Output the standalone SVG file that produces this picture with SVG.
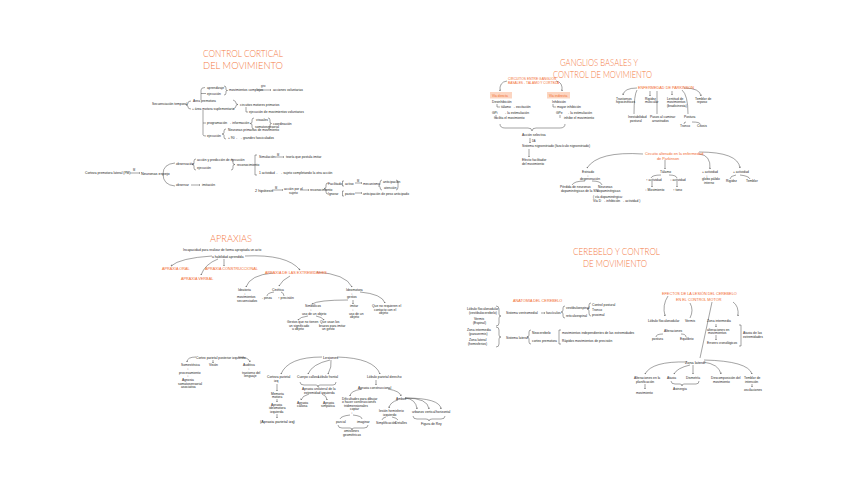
<svg xmlns="http://www.w3.org/2000/svg" width="848" height="486" viewBox="0 0 848 486">
<defs>
<style>
.t{font-family:"Liberation Sans",Arial,sans-serif;font-size:3.3px;fill:#222}
.b{font-family:"Liberation Sans",Arial,sans-serif;font-size:3.8px;fill:#222}
.o{font-family:"Liberation Sans",Arial,sans-serif;font-size:3.8px;fill:#f26a2d}
.h{font-family:"Lato","Open Sans","Liberation Sans",sans-serif;font-weight:300;font-size:10.4px;fill:#f47a45}
.c{fill:none;stroke:#333;stroke-width:0.45}
.a{fill:none;stroke:#333;stroke-width:0.45;marker-end:url(#ar)}
.bx{fill:#fcd5c1}
</style>
<marker id="ar" viewBox="0 0 6 6" refX="5" refY="3" markerWidth="4" markerHeight="4" orient="auto"><path d="M0,0.5 L5,3 L0,5.5" fill="none" stroke="#333" stroke-width="1"/></marker>
</defs>
<rect width="848" height="486" fill="#fff"/>

<!-- ===== Titles ===== -->
<g id="title1"><text class="h" x="203" y="56.5" textLength="80" lengthAdjust="spacingAndGlyphs">CONTROL CORTICAL</text><text class="h" x="203" y="69" textLength="80" lengthAdjust="spacingAndGlyphs">DEL MOVIMIENTO</text></g>
<g id="title2"><text class="h" x="560" y="65.5" textLength="78" lengthAdjust="spacingAndGlyphs">GANGLIOS BASALES Y</text><text class="h" x="553" y="78" textLength="99" lengthAdjust="spacingAndGlyphs">CONTROL DE MOVIMIENTO</text></g>
<g id="title3"><text class="h" x="210" y="242" textLength="42" lengthAdjust="spacingAndGlyphs">APRAXIAS</text></g>
<g id="title4"><text class="h" x="573" y="254.5" textLength="87" lengthAdjust="spacingAndGlyphs">CEREBELO Y CONTROL</text><text class="h" x="583" y="267" textLength="64" lengthAdjust="spacingAndGlyphs">DE MOVIMIENTO</text></g>

<!-- ===== Connectors ===== -->
<g id="connectors">
<!-- section 1 -->
<path class="c" d="M191,101 Q188,101 188,103 Q188,105 186,105 Q188,105 188,107 Q188,109 191,109"/>
<path class="c" d="M201,100 L201,90 Q201,87.5 205,87.5 M201,93.5 L206,93.5"/>
<path class="c" d="M224,86 Q226,86 226,88 L226,89.5 Q226,90.5 227.5,90.5 Q226,90.5 226,91.5 L226,93 Q226,95 224,95"/>
<path class="a" d="M257,90 L271,90"/>
<path class="c" d="M233,100 Q236,101 236,103 Q236,104.5 238,104.5 Q236,104.5 236,106 Q236,108 233,109"/>
<path class="c" d="M246,107 L246,112 L248,112"/>
<path class="c" d="M203,110 L203,135 Q203,136 206,136 M203,123 L206,123"/>
<path class="c" d="M254,118 Q252,118 252,120 L252,122 Q252,123.5 250,123.5 Q252,123.5 252,125 L252,127 Q252,129 254,129"/>
<path class="c" d="M268,118 Q270,118 270,120 L270,122 Q270,123.5 271.5,123.5 Q270,123.5 270,125 L270,127 Q270,129 268,129"/>
<path class="c" d="M226,129 Q224,129 224,131 L224,132.5 Q224,134 222,134 Q224,134 224,135.5 L224,137 Q224,139 226,139"/>
<path class="a" d="M130,173 L140,173"/>
<path class="c" d="M175,163 Q163,164 163,174 Q163,185 175,186"/>
<path class="c" d="M196,159 Q194,159 194,161 L194,163 Q194,164.5 192,164.5 Q194,164.5 194,166 L194,168 Q194,170 196,170"/>
<path class="c" d="M231,159 Q233,159 233,161 L233,163 Q233,164.5 235,164.5 Q233,164.5 233,166 L233,168 Q233,170 231,170"/>
<path class="c" d="M257,155 L255,155 L255,175 L257,175"/>
<path class="a" d="M275,157 L284,157"/>
<path class="a" d="M191,185 L200,185"/>
<path class="a" d="M272,190 L283,190"/>
<path class="a" d="M300,190 L309,190"/>
<path class="c" d="M328,183 Q326,183 326,185 L326,187 Q326,188.5 324,188.5 Q326,188.5 326,190 L326,192 Q326,194 328,194"/>
<path class="c" d="M344,181 L342.5,181 L342.5,186 L344,186 M344,191 L342.5,191 L342.5,196 L344,196"/>
<path class="a" d="M355,183 L362,183"/>
<path class="a" d="M355,193 L362,193"/>
<path class="c" d="M382,180 Q380,180 380,183 Q380,186 378.5,186 Q380,186 380,187 Q380,190 382,190 M396,180 Q398,180 398,183 Q398,186 398,187 Q398,190 396,190"/>
<!-- section 2 -->
<path class="a" d="M507,81 Q499,82 500,91"/>
<path class="a" d="M556,81 Q563,82 562,91"/>
<path class="c" d="M497,104 L497,107 L500,107"/>
<path class="c" d="M553,104 L553,107 L556,107"/>
<path class="c" d="M496,115 L496,118 M560,115 L560,118"/>
<path class="c" d="M500,124 Q500,128 505,128 L528,128 Q532,128 532,131 Q532,128 536,128 L560,128 Q565,128 565,124"/>
<path class="a" d="M530,138 L530,143"/>
<path class="a" d="M529,149 L529,157"/>
<path class="a" d="M637,88 Q624,88 623,95"/>
<path class="c" d="M637,90 Q634,95 634,114"/>
<path class="a" d="M650,91 L650,96"/>
<path class="c" d="M657,91 L657,114"/>
<path class="a" d="M672,91 L672,95"/>
<path class="c" d="M682,90 Q688,95 688,114"/>
<path class="c" d="M686,122 Q684,122 684,124 M692,122 Q700,122 700,124"/>
<path class="a" d="M684,88 Q700,88 701,96"/>
<path class="a" d="M643,154 Q598,151 587,168"/>
<path class="c" d="M585,181 Q574,181 572,185 M592,181 Q601,181 602,185"/>
<path class="a" d="M665,160 L665,169"/>
<path class="c" d="M661,175 Q652,175 651,178 M669,175 Q676,175 677,178"/>
<path class="a" d="M652,181 L652,187"/>
<path class="a" d="M677,181 L677,187"/>
<path class="a" d="M699,154 Q711,155 710,169"/>
<path class="a" d="M699,152 Q738,152 740,168"/>
<path class="c" d="M736,175 Q730,176 730,179 M740,175 Q749,176 750,179"/>
<!-- section 3 -->
<path class="a" d="M212,256 Q180,258 171,266"/>
<path class="a" d="M218,259 Q205,264 201,275"/>
<path class="a" d="M224,259 L224,266"/>
<path class="a" d="M245,256 Q287,254 300,270"/>
<path class="a" d="M273,273 Q250,275 246,287"/>
<path class="a" d="M290,276 Q282,280 279,286"/>
<path class="c" d="M274,292 Q267,293 267,296 M281,292 Q284,293 284,296"/>
<path class="a" d="M316,272 Q346,274 352,287"/>
<path class="a" d="M348,300 Q318,300 312,304"/>
<path class="a" d="M308,316 Q300,317 298,320"/>
<path class="a" d="M316,316 Q322,317 324,320"/>
<path class="a" d="M353,300 L353,304"/>
<path class="a" d="M360,292 Q382,294 385,303"/>
<path class="a" d="M196,357 Q187,357 187,362"/>
<path class="a" d="M213,360 L213,363"/>
<path class="a" d="M238,357 Q249,357 250,362"/>
<path class="a" d="M322,357 Q288,357 281,374"/>
<path class="a" d="M330,360 Q312,364 308,374"/>
<path class="a" d="M331,360 Q332,367 328,374"/>
<path class="a" d="M337,357 Q374,358 380,374"/>
<path class="c" d="M300,382 Q300,385 304,385 L316,385 Q318,385 318,387 Q318,385 320,385 L333,385 Q336,385 336,382"/>
<path class="a" d="M309,394 Q302,396 301,400"/>
<path class="a" d="M322,394 Q327,396 327,400"/>
<path class="a" d="M277,384 L277,391"/>
<path class="a" d="M277,399 L277,402"/>
<path class="a" d="M277,414 L277,418"/>
<path class="a" d="M376,380 L376,385"/>
<path class="a" d="M362,389 Q350,391 350,396"/>
<path class="a" d="M388,389 Q400,391 401,396"/>
<path class="c" d="M350,415 Q341,416 340,419 M353,415 Q362,416 362,419"/>
<path class="c" d="M338,425 Q338,428 342,428 L350,428 Q352,428 352,430 Q352,428 354,428 L364,428 Q368,428 368,425"/>
<path class="a" d="M398,400 Q390,402 389,408"/>
<path class="c" d="M386,417 Q382,418 382,420 M392,417 Q397,418 398,420"/>
<path class="a" d="M405,398 Q416,399 417,409"/>
<path class="a" d="M405,398 Q428,398 429,409"/>
<path class="a" d="M405,398 Q440,398 441,409"/>
<path class="c" d="M413,416 Q413,419 417,419 L426,419 Q429,419 429,421 Q429,419 432,419 L441,419 Q445,419 445,416"/>
<!-- section 4 -->
<path class="c" d="M496,306 Q499,306 499,309 L499,314 Q499,316 501,316 Q499,316 499,318 L499,323 Q499,326 496,326"/>
<path class="a" d="M541,313 L545,313"/>
<path class="c" d="M565,306 Q563,306 563,308 L563,310 Q563,312 561,312 Q563,312 563,314 L563,316 Q563,318 565,318"/>
<path class="c" d="M591,303 Q589,303 589,305 L589,307 Q589,309 587,309 Q589,309 589,311 L589,313 Q589,316 591,316"/>
<path class="c" d="M496,327 Q499,327 499,330 L499,335 Q499,337 501,337 Q499,337 499,339 L499,344 Q499,347 496,347"/>
<path class="c" d="M531,330 Q529,330 529,332 L529,335 Q529,337 527,337 Q529,337 529,339 L529,342 Q529,344 531,344"/>
<path class="c" d="M561,330 L559,330 L559,344 L561,344"/>
<path class="a" d="M668,296 Q662,305 665,316"/>
<path class="a" d="M733,302 Q739,306 738,316"/>
<path class="c" d="M712,302 Q706,330 700,358"/>
<path class="c" d="M690,303 Q694,310 690,318"/>
<path class="c" d="M663,334 Q656,334 656,337 M681,334 Q686,334 686,337"/>
<path class="a" d="M716,324 L716,327"/>
<path class="a" d="M716,335 L716,340"/>
<path class="c" d="M739,325 L741,325 L741,346 L739,346"/>
<path class="a" d="M687,362 Q652,361 645,374"/>
<path class="a" d="M690,365 Q677,368 674,374"/>
<path class="a" d="M693,365 L693,374"/>
<path class="c" d="M671,381 Q671,384 675,384 L680,384 Q682,384 682,386 Q682,384 684,384 L696,384 Q699,384 699,381"/>
<path class="a" d="M703,362 Q719,364 721,374"/>
<path class="a" d="M704,360 Q748,361 752,374"/>
<path class="a" d="M645,384 L645,389"/>
<path class="a" d="M752,384 L752,387"/>
</g>

<!-- ===== Section 1: Control cortical ===== -->
<g id="s1n1"><text class="t" x="152" y="105">Secuenciación temporal</text></g>
<g id="s1n2"><text class="t" x="193" y="102">Área premotora</text></g>
<g id="s1n3"><text class="t" x="192" y="109.5">+ área motora suplementaria</text></g>
<g id="s1n4"><text class="t" x="207" y="88.5">aprendizaje</text></g>
<g id="s1n5"><text class="t" x="207" y="94.5">ejecución</text></g>
<g id="s1n6"><text class="t" x="229" y="91">movimientos complejos</text></g>
<g id="s1n6b"><text class="t" x="261" y="87" style="font-size:2.6px">giro</text></g>
<g id="s1n7"><text class="t" x="273" y="91">acciones voluntarias</text></g>
<g id="s1n8"><text class="t" x="240" y="105.5">circuitos motores primarios</text></g>
<g id="s1n9"><text class="t" x="249" y="113">ejecución de movimientos voluntarios</text></g>
<g id="s1n10"><text class="t" x="207" y="124">programación</text></g>
<g id="s1n11"><text class="t" x="228" y="124">→ información</text></g>
<g id="s1n12"><text class="t" x="256" y="121">visuales</text></g>
<g id="s1n13"><text class="t" x="255" y="128">somatosensorial</text></g>
<g id="s1n14"><text class="t" x="273" y="124.5">coordinación</text></g>
<g id="s1n15"><text class="t" x="207" y="136.5">ejecución</text></g>
<g id="s1n16"><text class="t" x="228" y="131">Neuronas primarias de movimiento</text></g>
<g id="s1n17"><text class="t" x="228" y="138.5">+ 90 ←→ grandes fasciculados</text></g>

<g id="s1m1"><text class="t" x="85" y="174">Corteza premotora lateral (PM)</text></g>
<g id="s1m1b"><text class="t" x="133" y="171" style="font-size:2.6px">M</text></g>
<g id="s1m2"><text class="b" x="141" y="174.5">Neuronas espejo</text></g>
<g id="s1m3"><text class="t" x="176" y="164.5">observación</text></g>
<g id="s1m4"><text class="t" x="197" y="161">acción y predicción de ejecución</text></g>
<g id="s1m5"><text class="t" x="197" y="169">ejecución</text></g>
<g id="s1m6"><text class="t" x="237" y="165.5">reconocimiento</text></g>
<g id="s1m7"><text class="t" x="259" y="158">Simulación</text><text class="t" x="277" y="155.5" style="font-size:2.6px">M</text></g>
<g id="s1m8"><text class="t" x="286" y="158">teoría que postula imitar</text></g>
<g id="s1m9"><text class="t" x="259" y="173.5">1 actividad ←→ sujeto completando la otra acción</text></g>
<g id="s1m10"><text class="t" x="176" y="186">observar</text></g>
<g id="s1m11"><text class="t" x="202" y="186">imitación</text></g>
<g id="s1m12"><text class="b" x="255" y="191.5">2 hipótesis</text><text class="t" x="275" y="188.5" style="font-size:2.6px">M</text></g>
<g id="s1m13"><text class="t" x="284" y="190">acción por el</text><text class="t" x="289" y="194">sujeto</text></g>
<g id="s1m14"><text class="t" x="310" y="191">reconocimiento</text></g>
<g id="s1m15"><text class="t" x="328" y="184.5">Facilitado</text><text class="t" x="345" y="184.5">activo</text><text class="t" x="357" y="181.5" style="font-size:2.6px">M</text></g>
<g id="s1m16"><text class="t" x="363" y="184.5">mecanismo</text></g>
<g id="s1m17"><text class="t" x="383" y="183">anticipación</text><text class="t" x="384" y="189">atención</text></g>
<g id="s1m18"><text class="t" x="328" y="194.5">Ignorar</text><text class="t" x="345" y="194.5">pasivo</text></g>
<g id="s1m19"><text class="t" x="363" y="194.5">anticipación de peso anticipado</text></g>

<!-- ===== Section 2: Ganglios basales ===== -->
<g id="s2n1"><text class="o" x="508" y="80" style="font-size:3.3px">CIRCUITOS ENTRE GANGLIOS</text><text class="o" x="508" y="84" style="font-size:3.3px">BASALES - TÁLAMO Y CORTEZA</text></g>
<g id="s2n2"><rect class="bx" x="490" y="92" width="22" height="6.5"/><text class="o" x="492" y="96.5" style="font-size:3.3px">Vía directa</text></g>
<g id="s2n3"><rect class="bx" x="547" y="92" width="23" height="6.5"/><text class="o" x="549" y="96.5" style="font-size:3.3px">Vía indirecta</text></g>
<g id="s2n4"><text class="t" x="492" y="103">Desinhibición</text></g>
<g id="s2n5"><text class="t" x="501" y="108">tálamo → excitación</text></g>
<g id="s2n6"><text class="t" x="492" y="114">GPi</text><text class="t" x="503" y="113.5">→ la estimulación</text></g>
<g id="s2n7"><text class="t" x="494" y="118.5">facilita el movimiento</text></g>
<g id="s2n8"><text class="t" x="552" y="103">Inhibición</text></g>
<g id="s2n9"><text class="t" x="557" y="108">mayor inhibición</text></g>
<g id="s2n10"><text class="t" x="556" y="114">GPe</text><text class="t" x="566" y="113.5">→ la estimulación</text></g>
<g id="s2n11"><text class="t" x="564" y="118.5">inhibe el movimiento</text></g>
<g id="s2n12"><text class="t" x="522" y="136">Acción selectiva</text></g>
<g id="s2n12b"><text class="t" x="532" y="142" style="font-size:2.6px">DA</text></g>
<g id="s2n13"><text class="t" x="522" y="147">Sistema nigroestriado (fascículo nigroestriado)</text></g>
<g id="s2n14"><text class="t" x="522" y="161">Efecto facilitador</text><text class="t" x="522" y="164.5">del movimiento</text></g>

<g id="s2p0"><text class="o" x="638" y="89">ENFERMEDAD DE PARKINSON</text></g>
<g id="s2p1"><text class="t" x="616" y="99.5">Trastornos</text><text class="t" x="616" y="103">hipocinéticos</text></g>
<g id="s2p2"><text class="t" x="628" y="118">Inestabilidad</text><text class="t" x="630" y="121.5">postural</text></g>
<g id="s2p3"><text class="t" x="645" y="99.5">Rigidez</text><text class="t" x="645" y="103">muscular</text></g>
<g id="s2p4"><text class="t" x="650" y="118">Pasos al caminar</text><text class="t" x="652" y="121.5">arrastrados</text></g>
<g id="s2p5"><text class="t" x="667" y="99.5">Lentitud de</text><text class="t" x="667" y="103">movimientos</text><text class="t" x="667" y="106.5">(bradicinesia)</text></g>
<g id="s2p6"><text class="t" x="684" y="118">Postura</text></g>
<g id="s2p7"><text class="t" x="680" y="126.5">Tronco</text></g>
<g id="s2p8"><text class="t" x="697" y="126.5">Cifosis</text></g>
<g id="s2p9"><text class="t" x="695" y="99.5">Temblor de</text><text class="t" x="697" y="103">reposo</text></g>

<g id="s2c0"><text class="o" x="645" y="155">Circuito alterado en la enfermedad</text><text class="o" x="657" y="159.5">de Parkinson</text></g>
<g id="s2c1"><text class="t" x="582" y="173">Estriado</text><text class="t" x="587" y="176.5">↓</text><text class="t" x="580" y="180">degeneración</text></g>
<g id="s2c2"><text class="t" x="560" y="188">Pérdida de neuronas</text><text class="t" x="561" y="191.5">dopaminérgicas de la SN</text></g>
<g id="s2c3"><text class="t" x="598" y="188">Neuronas</text><text class="t" x="597" y="191.5">dopaminérgicas</text></g>
<g id="s2c4"><text class="t" x="593" y="198">( vía dopaminérgica:</text><text class="t" x="593" y="202">Vía D → inhibición → actividad )</text></g>
<g id="s2c5"><text class="t" x="660" y="173">Tálamo</text></g>
<g id="s2c6"><text class="t" x="646" y="180.5">↑ actividad</text></g>
<g id="s2c7"><text class="t" x="670" y="180.5">↓ actividad</text></g>
<g id="s2c8"><text class="t" x="645" y="191">↓ Movimiento</text></g>
<g id="s2c9"><text class="t" x="673" y="191">↑ tono</text></g>
<g id="s2c10"><text class="t" x="702" y="173">+ actividad</text><text class="t" x="706" y="176.5">↓</text><text class="t" x="702" y="180">globo pálido</text><text class="t" x="704" y="183.5">interno</text></g>
<g id="s2c11"><text class="t" x="733" y="173">+ actividad</text></g>
<g id="s2c12"><text class="t" x="726" y="182">Rigidez</text></g>
<g id="s2c13"><text class="t" x="746" y="182">Temblor</text></g>

<!-- ===== Section 3: Apraxias ===== -->
<g id="s3n1"><text class="t" x="183" y="251">Incapacidad para realizar de forma apropiada un acto</text></g>
<g id="s3n2"><text class="t" x="212" y="258">a habilidad aprendida</text></g>
<g id="s3n3"><text class="o" x="162" y="270">APRAXIA ORAL</text></g>
<g id="s3n4"><text class="o" x="181" y="280">APRAXIA VERBAL</text></g>
<g id="s3n5"><text class="o" x="205" y="270">APRAXIA CONSTRUCCIONAL</text></g>
<g id="s3n6"><text class="o" x="265" y="274">APRAXIA DE LAS EXTREMIDADES</text></g>
<g id="s3n7"><text class="t" x="238" y="291">Ideatoria</text><text class="t" x="244" y="294.5">↓</text><text class="t" x="237" y="298">movimientos</text><text class="t" x="237" y="301.5">secuenciados</text></g>
<g id="s3n8"><text class="t" x="272" y="290.5">Cinética</text></g>
<g id="s3n9"><text class="t" x="262" y="298.5">- pinza</text></g>
<g id="s3n10"><text class="t" x="278" y="298.5">↑ precisión</text></g>
<g id="s3n11"><text class="t" x="346" y="291">Ideomotora</text><text class="t" x="351" y="294.5">↓</text><text class="t" x="347" y="298">gestos</text></g>
<g id="s3n12"><text class="t" x="305" y="307">Simbólicos</text><text class="t" x="310" y="310.5">↓</text><text class="t" x="302" y="314.5">uso de un objeto</text></g>
<g id="s3n13"><text class="t" x="287" y="323">Gestos que no tienen</text><text class="t" x="289" y="326.5">un significado</text><text class="t" x="292" y="330">u objeto</text></g>
<g id="s3n14"><text class="t" x="320" y="323">Que usan los</text><text class="t" x="319" y="326.5">brazos para imitar</text><text class="t" x="322" y="330">un gesto</text></g>
<g id="s3n15"><text class="t" x="350" y="307">imitar</text><text class="t" x="352" y="310.5">↓</text><text class="t" x="349" y="314.5">uso de un</text><text class="t" x="350" y="318">objeto</text></g>
<g id="s3n16"><text class="t" x="372" y="307">Que no requieren el</text><text class="t" x="374" y="310.5">contacto con el</text><text class="t" x="379" y="314">objeto</text></g>

<g id="s3m1"><text class="t" x="196" y="358.5">Cortex parietal posterior izquierdo</text></g>
<g id="s3m2"><text class="t" x="181" y="366">Somestésica</text><text class="t" x="187" y="369.5">↓</text><text class="t" x="179" y="373.5">procesamiento</text><text class="t" x="187" y="377">↓</text><text class="t" x="182" y="381">Agnosia</text><text class="t" x="178" y="384.5">somatosensorial</text><text class="t" x="181" y="388">asociativa</text></g>
<g id="s3m3"><text class="t" x="209" y="366">Visión</text></g>
<g id="s3m4"><text class="t" x="243" y="366">Auditiva</text><text class="t" x="248" y="369.5">↓</text><text class="t" x="242" y="373.5">trastorno del</text><text class="t" x="244" y="377">lenguaje</text></g>
<g id="s3m5"><text class="b" x="323" y="358.5">Lesiones</text></g>
<g id="s3m6"><text class="t" x="267" y="378">Corteza parietal</text><text class="t" x="274" y="381.5">izq</text></g>
<g id="s3m7"><text class="t" x="271" y="394.5">Memoria</text><text class="t" x="272" y="398">motora</text></g>
<g id="s3m8"><text class="t" x="271" y="405.5">Apraxia</text><text class="t" x="269" y="409">ideomotora</text><text class="t" x="270" y="412.5">izquierda</text></g>
<g id="s3m9"><text class="b" x="260" y="422.5">(Apraxia parietal izq)</text></g>
<g id="s3m10"><text class="t" x="297" y="378">Cuerpo calloso</text></g>
<g id="s3m11"><text class="t" x="318" y="378">Lóbulo frontal</text></g>
<g id="s3m12"><text class="t" x="302" y="390">Apraxia unilateral de la</text><text class="t" x="304" y="393.5">extremidad izquierda</text></g>
<g id="s3m13"><text class="t" x="297" y="403.5">Apraxia</text><text class="t" x="297" y="407">callosa</text></g>
<g id="s3m14"><text class="t" x="323" y="403.5">Apraxia</text><text class="t" x="321" y="407">simpática</text></g>
<g id="s3m15"><text class="t" x="367" y="378">Lóbulo parietal derecho</text></g>
<g id="s3m16"><text class="t" x="358" y="388.5">Apraxia construccional</text></g>
<g id="s3m17"><text class="t" x="342" y="399.5">Dificultades para dibujar</text><text class="t" x="342" y="403">o hacer construcciones</text><text class="t" x="344" y="406.5">tridimensionales</text><text class="t" x="350" y="410">copiar</text><text class="t" x="351" y="413.5">↓</text></g>
<g id="s3m18"><text class="t" x="336" y="422.5">parcial</text></g>
<g id="s3m19"><text class="t" x="357" y="422.5">imaginar</text></g>
<g id="s3m20"><text class="t" x="344" y="432">omisiones</text><text class="t" x="343" y="435.5">geométricas</text></g>
<g id="s3m21"><text class="t" x="396" y="399.5">Ambos</text></g>
<g id="s3m22"><text class="t" x="379" y="412">lesión hemisferio</text><text class="t" x="383" y="415.5">izquierdo</text></g>
<g id="s3m23"><text class="t" x="376" y="423.5">Simplificación</text></g>
<g id="s3m24"><text class="t" x="395" y="423.5">Detalles</text></g>
<g id="s3m25"><text class="t" x="412" y="412.5">urbanos</text></g>
<g id="s3m26"><text class="t" x="425" y="412.5">vertical</text></g>
<g id="s3m27"><text class="t" x="436" y="412.5">horizontal</text></g>
<g id="s3m28"><text class="t" x="421" y="424.5">Figura de Rey</text></g>

<!-- ===== Section 4: Cerebelo ===== -->
<g id="s4n0"><text class="o" x="513" y="302">ANATOMÍA DEL CEREBELO</text></g>
<g id="s4n1"><text class="t" x="467" y="310">Lóbulo floculonodular</text><text class="t" x="469" y="313.5">(vestibulocerebelo)</text></g>
<g id="s4n2"><text class="t" x="474" y="320">Vermis</text><text class="t" x="473" y="323.5">(Espinal)</text></g>
<g id="s4n3"><text class="t" x="506" y="314">Sistema ventromedial</text></g>
<g id="s4n4"><text class="t" x="546" y="314">fascículos</text></g>
<g id="s4n5"><text class="t" x="566" y="309">vestibuloespinal</text><text class="t" x="566" y="317">reticuloespinal</text></g>
<g id="s4n6"><text class="t" x="592" y="306">Control postural</text><text class="t" x="592" y="311">Tronco</text><text class="t" x="592" y="316">proximal</text></g>
<g id="s4n7"><text class="t" x="467" y="331">Zona intermedia</text><text class="t" x="469" y="334.5">(paravermis)</text></g>
<g id="s4n8"><text class="t" x="469" y="341">Zona lateral</text><text class="t" x="468" y="344.5">(hemisferios)</text></g>
<g id="s4n9"><text class="t" x="506" y="338.5">Sistema lateral</text></g>
<g id="s4n10"><text class="t" x="532" y="334">Neocerebelo</text></g>
<g id="s4n11"><text class="t" x="532" y="342">cortex premotora</text></g>
<g id="s4n12"><text class="t" x="562" y="334">movimientos independientes de las extremidades</text></g>
<g id="s4n13"><text class="t" x="562" y="342">Rápidos movimientos de precisión</text></g>

<g id="s4e0"><text class="o" x="662" y="294.5">EFECTOS DE LA LESIÓN DEL CEREBELO</text><text class="o" x="676" y="301">EN EL CONTROL MOTOR</text></g>
<g id="s4e1"><text class="t" x="648" y="321.5">Lóbulo floculonodular</text></g>
<g id="s4e2"><text class="t" x="685" y="321.5">Vermis</text></g>
<g id="s4e3"><text class="t" x="664" y="331.5">Alteraciones</text></g>
<g id="s4e4"><text class="t" x="652" y="340">postura</text></g>
<g id="s4e5"><text class="t" x="680" y="340">Equilibrio</text></g>
<g id="s4e6"><text class="t" x="707" y="321.5">Zona intermedia</text></g>
<g id="s4e7"><text class="t" x="707" y="330.5">alteraciones en</text><text class="t" x="708" y="334">movimientos</text></g>
<g id="s4e8"><text class="t" x="707" y="344">Errores cronológicos</text></g>
<g id="s4e9"><text class="t" x="743" y="334">Ataxia de las</text><text class="t" x="743" y="337.5">extremidades</text></g>
<g id="s4e10"><text class="b" x="685" y="364">Zona lateral</text></g>
<g id="s4e11"><text class="t" x="634" y="379">Alteraciones en la</text><text class="t" x="636" y="382.5">planificación</text></g>
<g id="s4e12"><text class="t" x="636" y="393.5">movimiento</text></g>
<g id="s4e13"><text class="t" x="667" y="379">Ataxia</text></g>
<g id="s4e14"><text class="t" x="686" y="379">Dismetría</text></g>
<g id="s4e15"><text class="t" x="673" y="389.5">Asinergia</text></g>
<g id="s4e16"><text class="t" x="711" y="379">Descomposición del</text><text class="t" x="713" y="382.5">movimiento</text></g>
<g id="s4e17"><text class="t" x="744" y="379">Temblor de</text><text class="t" x="745" y="382.5">intención</text></g>
<g id="s4e18"><text class="t" x="744" y="390.5">oscilaciones</text></g>
</svg>
